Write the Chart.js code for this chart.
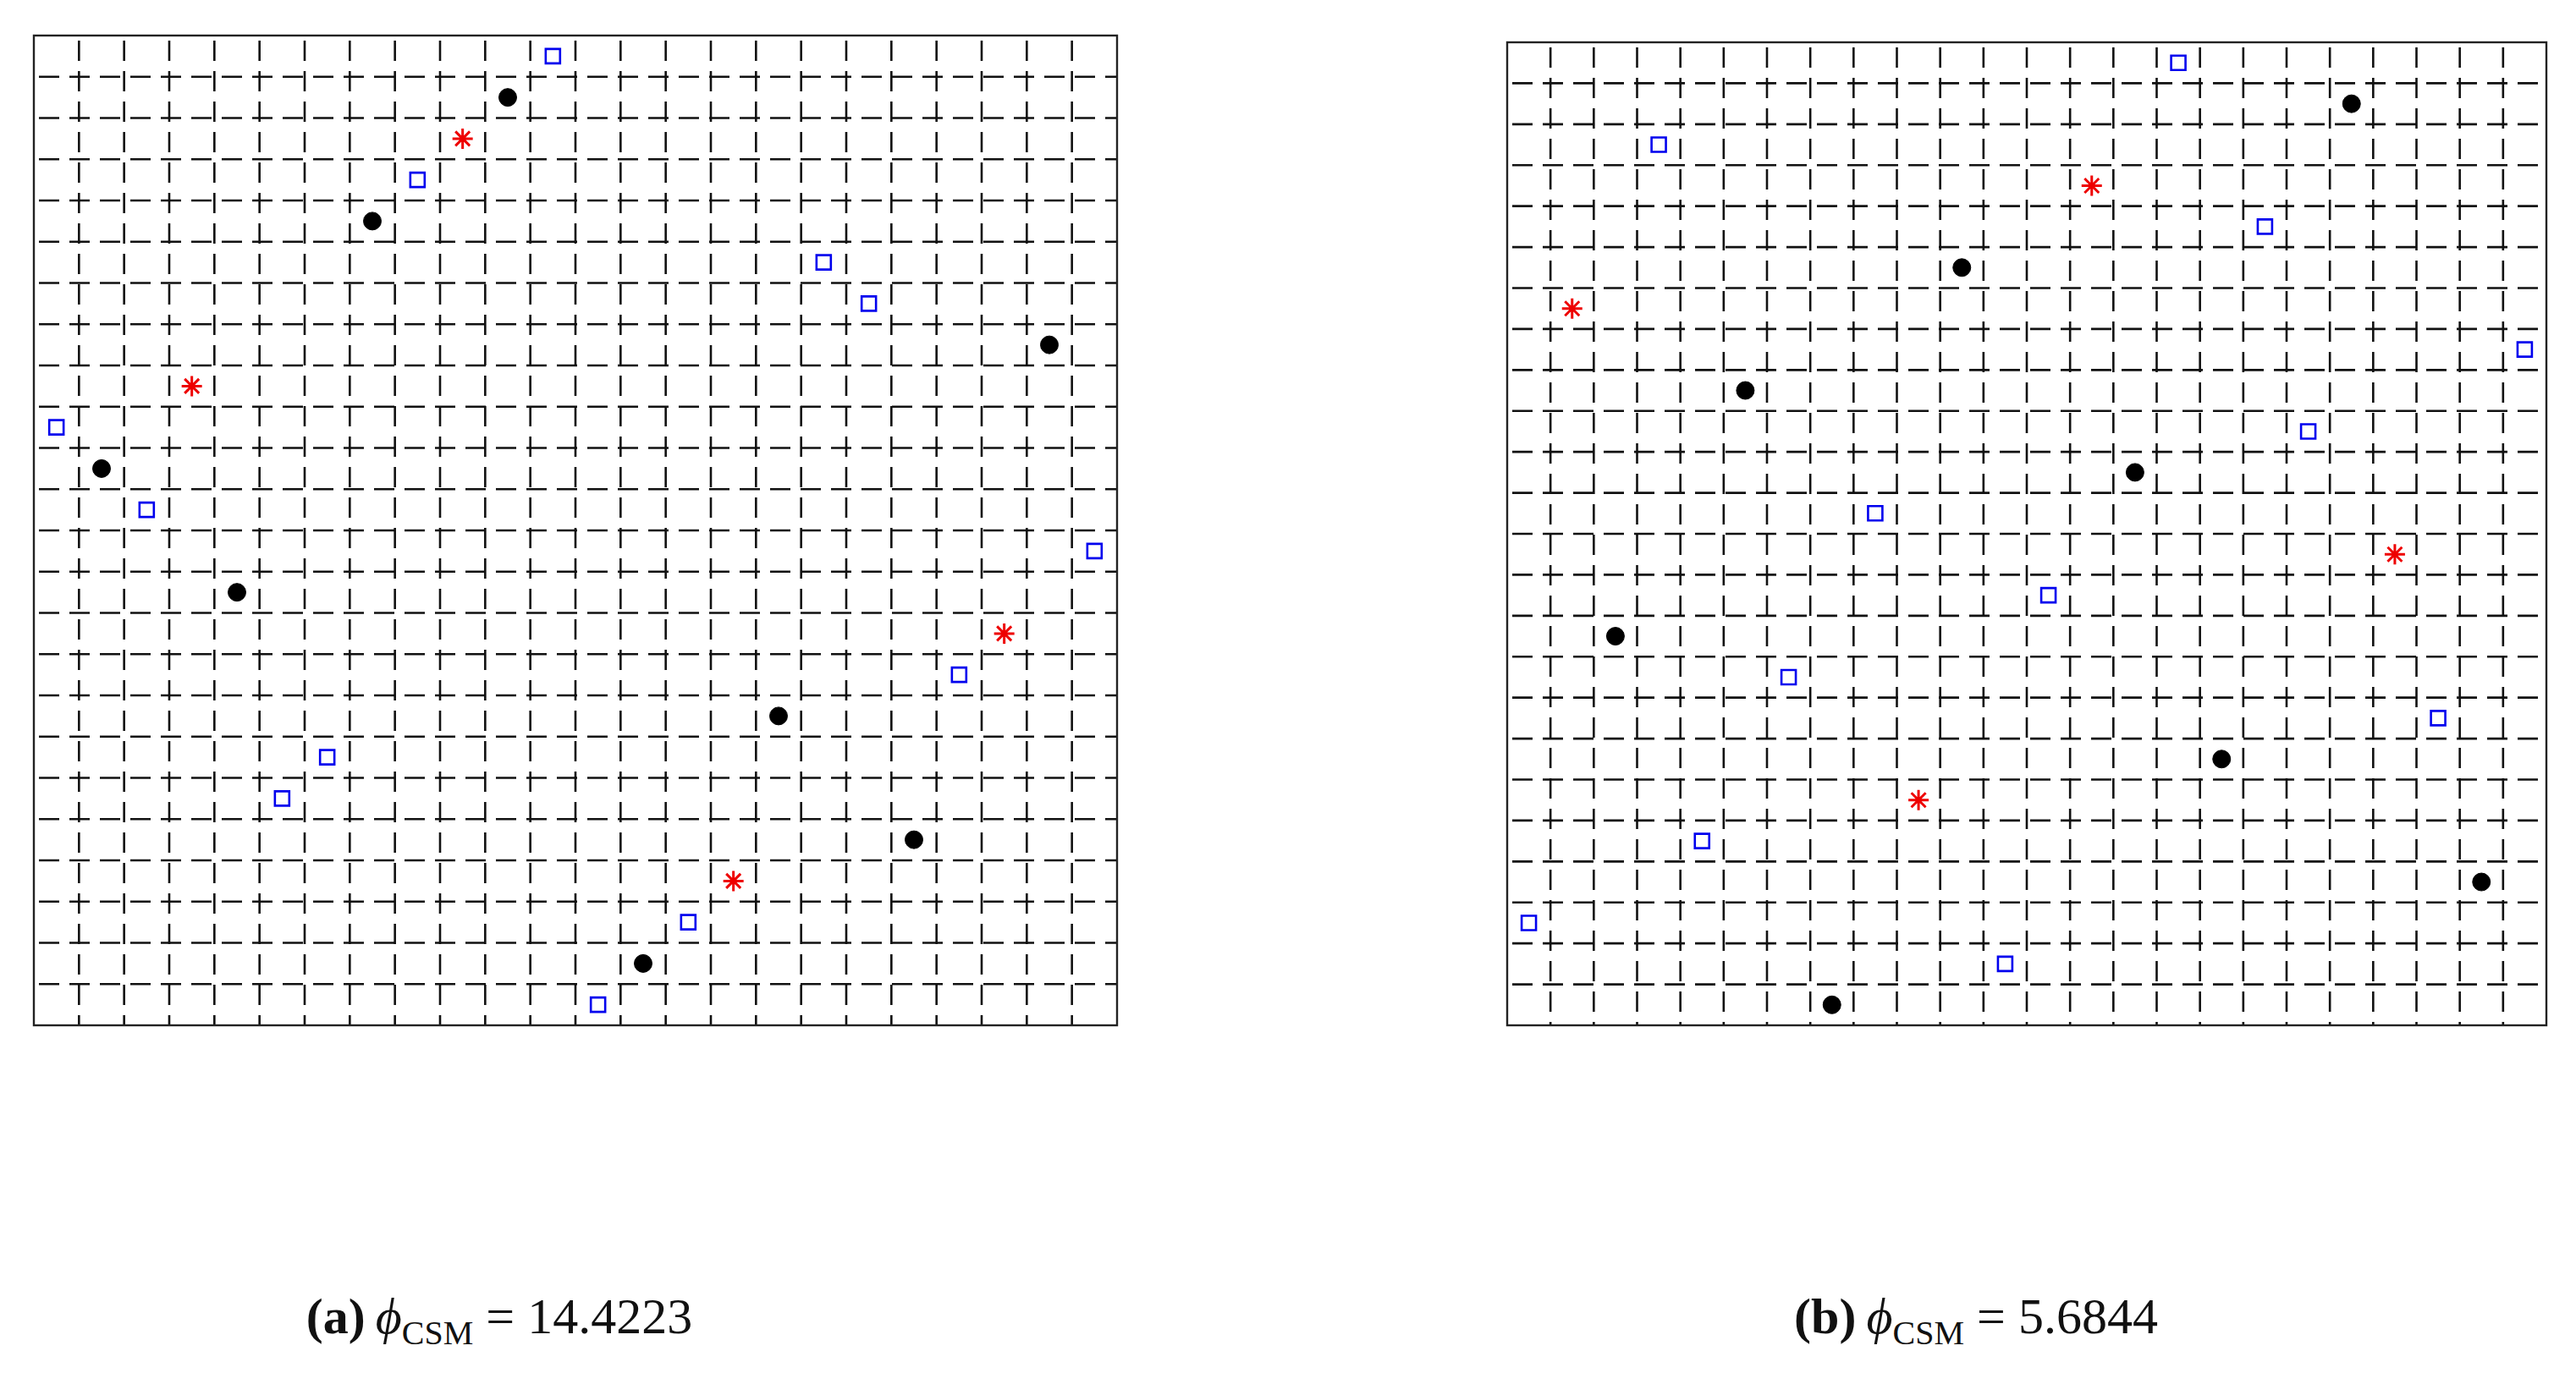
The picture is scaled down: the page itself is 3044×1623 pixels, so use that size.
<!DOCTYPE html>
<html>
<head>
<meta charset="utf-8">
<script src="https://cdn.jsdelivr.net/npm/chart.js@4"></script>
<style>
  body { margin: 0; background: #fff; width: 3044px; height: 1623px; position: relative; overflow: hidden; }
  canvas { position: absolute; }
  .cap { position: absolute; font-family: "Liberation Serif", serif; font-size: 60px; color: #111; white-space: nowrap; transform: translateX(-50%); }
  .cap sub { font-size: 40px; }
</style>
</head>
<body>
<canvas id="ca"></canvas>
<canvas id="cb"></canvas>
<div class="cap" style="left:590px; top:1522px"><b>(a)</b>&thinsp;<i>ϕ</i><sub>CSM</sub> = 14.4223</div>
<div class="cap" style="left:2335px; top:1522px"><b>(b)</b>&thinsp;<i>ϕ</i><sub>CSM</sub> = 5.6844</div>
<script>
// grid is 24 x 24 cells, points sit at cell centres [column, row from top]
const GRID_N = 24;

const aSquares = [[11,0],[8,3],[17,5],[18,6],[0,9],[2,11],[23,12],[20,15],[6,17],[5,18],[14,21],[12,23]];
const aCircles = [[10,1],[7,4],[22,7],[1,10],[4,13],[16,16],[19,19],[13,22]];
const aStars = [[9,2],[3,8],[21,14],[15,20]];

const bSquares = [[15,0],[3,2],[17,4],[23,7],[18,9],[8,11],[12,13],[6,15],[21,16],[4,19],[0,21],[11,22]];
const bCircles = [[19,1],[10,5],[5,8],[14,10],[2,14],[16,17],[22,20],[7,23]];
const bStars = [[13,3],[1,6],[20,12],[9,18]];

const PAD = 4;

const toPts = arr => arr.map(p => ({ x: p[0] + 0.5, y: p[1] + 0.5 }));

const gridPlugin = {
  id: 'dashGrid',
  beforeDatasetsDraw(chart) {
    const { ctx, chartArea: a, scales: { x, y } } = chart;
    ctx.save();
    ctx.strokeStyle = '#111';
    ctx.lineWidth = 2.6;
    ctx.setLineDash([24, 12]);
    for (let i = 1; i < GRID_N; i++) {
      const px = x.getPixelForValue(i);
      ctx.lineDashOffset = -6;
      ctx.beginPath(); ctx.moveTo(px, a.top); ctx.lineTo(px, a.bottom); ctx.stroke();
      const py = y.getPixelForValue(i);
      ctx.beginPath(); ctx.moveTo(a.left, py); ctx.lineTo(a.right, py); ctx.stroke();
    }
    ctx.setLineDash([]);
    ctx.strokeStyle = '#222';
    ctx.lineWidth = 2.4;
    ctx.strokeRect(a.left, a.top, a.right - a.left, a.bottom - a.top);
    ctx.restore();
  }
};

function makePanel(id, left, top, right, bottom, squares, circles, stars) {
  const cv = document.getElementById(id);
  const w = right - left + 2 * PAD, h = bottom - top + 2 * PAD;
  cv.style.left = (left - PAD) + 'px';
  cv.style.top = (top - PAD) + 'px';
  cv.style.width = w + 'px';
  cv.style.height = h + 'px';
  cv.width = w; cv.height = h;
  new Chart(cv, {
    type: 'scatter',
    data: {
      datasets: [
        { data: toPts(squares), pointStyle: 'rect', pointRadius: 12, borderColor: '#0000ee', borderWidth: 2.6, backgroundColor: '#fff' },
        { data: toPts(circles), pointStyle: 'circle', pointRadius: 10.5, borderColor: '#000', borderWidth: 1, backgroundColor: '#000' },
        { data: toPts(stars), pointStyle: 'star', pointRadius: 12, borderColor: '#ee0000', borderWidth: 3, backgroundColor: '#ee0000' }
      ]
    },
    options: {
      responsive: false,
      animation: false,
      devicePixelRatio: 1,
      layout: { padding: PAD },
      plugins: { legend: { display: false }, tooltip: { enabled: false } },
      scales: {
        x: { type: 'linear', min: 0, max: GRID_N, display: false },
        y: { type: 'linear', min: 0, max: GRID_N, reverse: true, display: false }
      }
    },
    plugins: [gridPlugin]
  });
}

makePanel('ca', 29, 31, 1331, 1223, aSquares, aCircles, aStars);
makePanel('cb', 1770, 39, 3020, 1223, bSquares, bCircles, bStars);
</script>
</body>
</html>
